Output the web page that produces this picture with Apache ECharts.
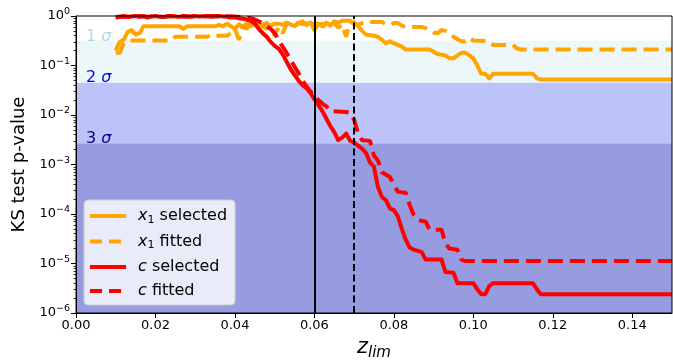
<!DOCTYPE html>
<html>
<head>
<meta charset="utf-8">
<script src="https://cdn.jsdelivr.net/npm/echarts@6/dist/echarts.min.js"></script>
<style>
html,body{margin:0;padding:0;background:#fff;}
#chart{width:673px;height:361px;}
</style>
</head>
<body>
<div id="chart"></div>
<script>
// ---------- data ----------
const xTicks = [0.00, 0.02, 0.04, 0.06, 0.08, 0.10, 0.12, 0.14];
const yTicks = [1e-6, 1e-5, 1e-4, 1e-3, 1e-2, 1e-1, 1];
const minorMantissas = [2, 3, 4, 5, 6, 7, 8, 9];
const seriesNames = ['x1 selected', 'x1 fitted', 'c selected', 'c fitted'];
const sigmaBounds = [1e-6, 0.0027, 0.0455, 0.3173];
const zRefs = [0.06, 0.07];

const x1Selected = [
  [0.010,0.20],[0.011,0.30],[0.012,0.33],[0.013,0.48],[0.014,0.52],[0.015,0.42],[0.016,0.45],[0.017,0.62],
  [0.026,0.62],[0.027,0.55],[0.028,0.62],[0.035,0.62],[0.036,0.66],[0.037,0.62],[0.038,0.70],[0.039,0.62],
  [0.040,0.55],[0.041,0.68],[0.042,0.60],[0.043,0.72],[0.044,0.62],[0.045,0.70],[0.046,0.58],[0.047,0.66],
  [0.048,0.72],[0.049,0.64],[0.050,0.70],[0.051,0.70],[0.052,0.66],[0.053,0.74],[0.054,0.68],[0.055,0.62],
  [0.056,0.70],[0.057,0.78],[0.058,0.66],[0.059,0.74],[0.060,0.52],[0.061,0.70],[0.062,0.62],[0.063,0.74],
  [0.064,0.64],[0.065,0.78],[0.066,0.74],[0.067,0.80],[0.069,0.80],[0.070,0.75],[0.071,0.62],[0.072,0.50],
  [0.073,0.42],[0.075,0.40],[0.076,0.38],[0.077,0.33],[0.078,0.28],[0.079,0.31],[0.080,0.28],[0.081,0.26],
  [0.082,0.24],[0.083,0.21],[0.089,0.21],[0.090,0.19],[0.091,0.17],[0.092,0.165],[0.093,0.16],[0.094,0.14],
  [0.095,0.14],[0.096,0.16],[0.097,0.18],[0.098,0.18],[0.099,0.16],[0.100,0.14],[0.101,0.10],[0.102,0.068],
  [0.103,0.068],[0.104,0.055],[0.105,0.068],[0.115,0.068],[0.116,0.055],[0.117,0.052],[0.150,0.052]
];

const x1Fitted = [
  [0.010,0.18],[0.011,0.18],[0.012,0.28],[0.013,0.32],[0.024,0.32],[0.025,0.38],[0.033,0.38],[0.034,0.42],
  [0.035,0.40],[0.038,0.40],[0.039,0.45],[0.040,0.55],[0.041,0.33],[0.042,0.62],[0.043,0.55],[0.044,0.68],
  [0.045,0.60],[0.046,0.70],[0.047,0.62],[0.048,0.55],[0.049,0.66],[0.050,0.40],[0.051,0.60],[0.052,0.45],
  [0.053,0.68],[0.054,0.72],[0.055,0.62],[0.056,0.75],[0.057,0.68],[0.058,0.72],[0.059,0.60],[0.060,0.72],
  [0.061,0.66],[0.062,0.70],[0.063,0.55],[0.064,0.66],[0.065,0.72],[0.066,0.58],[0.067,0.68],[0.068,0.38],
  [0.069,0.76],[0.070,0.70],[0.071,0.66],[0.072,0.72],[0.073,0.76],[0.077,0.76],[0.078,0.68],[0.079,0.66],
  [0.080,0.72],[0.081,0.72],[0.082,0.64],[0.083,0.60],[0.087,0.60],[0.088,0.57],[0.089,0.52],[0.090,0.46],
  [0.091,0.45],[0.092,0.52],[0.093,0.50],[0.094,0.44],[0.095,0.38],[0.096,0.34],[0.097,0.31],[0.098,0.31],
  [0.099,0.36],[0.100,0.32],[0.104,0.31],[0.105,0.26],[0.110,0.26],[0.111,0.22],[0.112,0.21],[0.150,0.21]
];

const cSelected = [
  [0.010,0.92],[0.011,0.97],[0.012,0.99],[0.013,0.95],[0.014,0.98],[0.015,1.0],[0.016,0.96],[0.017,0.99],
  [0.018,0.93],[0.019,0.98],[0.020,1.0],[0.021,0.97],[0.022,0.95],[0.023,0.99],[0.024,1.0],[0.025,0.98],
  [0.026,0.96],[0.027,1.0],[0.028,0.99],[0.029,0.97],[0.030,1.0],[0.031,0.98],[0.032,0.99],[0.033,1.0],
  [0.034,0.97],[0.035,0.99],[0.036,1.0],[0.037,0.98],[0.038,0.96],[0.039,0.93],[0.040,0.94],[0.041,0.90],
  [0.042,0.88],[0.043,0.85],[0.044,0.80],[0.045,0.70],[0.046,0.55],[0.047,0.45],[0.048,0.38],[0.049,0.30],
  [0.050,0.25],[0.051,0.22],[0.052,0.17],[0.053,0.12],[0.054,0.085],[0.055,0.065],[0.056,0.05],[0.057,0.04],
  [0.058,0.035],[0.059,0.028],[0.060,0.021],[0.061,0.016],[0.062,0.012],[0.063,0.0085],[0.064,0.006],
  [0.065,0.0045],[0.066,0.0031],[0.067,0.0035],[0.068,0.0042],[0.069,0.0030],[0.070,0.0028],[0.071,0.0024],
  [0.072,0.0021],[0.073,0.0017],[0.074,0.0011],[0.075,0.0009],[0.076,0.00035],[0.077,0.00022],[0.078,0.00019],
  [0.079,0.00013],[0.080,0.00012],[0.081,0.00009],[0.082,0.00005],[0.083,0.00003],[0.084,0.000021],
  [0.085,0.000019],[0.087,0.000017],[0.088,0.000012],[0.092,0.000012],[0.093,0.0000067],[0.095,0.0000065],
  [0.096,0.000004],[0.100,0.000004],[0.101,0.000003],[0.102,0.0000024],[0.103,0.0000024],[0.104,0.0000035],
  [0.105,0.000004],[0.115,0.000004],[0.116,0.000003],[0.117,0.0000024],[0.150,0.0000024]
];

const cFitted = [
  [0.010,0.95],[0.012,0.98],[0.014,0.96],[0.016,1.0],[0.018,0.97],[0.020,0.99],[0.022,0.96],[0.024,1.0],
  [0.026,0.98],[0.028,0.96],[0.030,1.0],[0.032,0.98],[0.034,1.0],[0.036,0.97],[0.038,0.99],[0.040,0.98],
  [0.042,0.95],[0.044,0.90],[0.045,0.85],[0.046,0.78],[0.047,0.72],[0.048,0.62],[0.049,0.55],[0.050,0.45],
  [0.051,0.33],[0.052,0.24],[0.053,0.18],[0.054,0.13],[0.055,0.095],[0.056,0.07],[0.057,0.05],[0.058,0.038],
  [0.059,0.03],[0.060,0.024],[0.061,0.02],[0.062,0.017],[0.063,0.015],[0.064,0.012],[0.068,0.0115],
  [0.069,0.011],[0.070,0.008],[0.071,0.0042],[0.072,0.0031],[0.074,0.003],[0.075,0.0015],[0.076,0.0012],
  [0.077,0.0007],[0.079,0.00056],[0.080,0.0004],[0.081,0.00028],[0.083,0.00027],[0.084,0.00015],
  [0.085,0.000096],[0.086,0.000076],[0.088,0.00007],[0.089,0.000048],[0.092,0.000048],[0.093,0.000025],
  [0.094,0.00002],[0.096,0.000019],[0.097,0.000012],[0.098,0.0000112],[0.150,0.0000112]
];

// ---------- chart ----------
const FONT = 'DejaVu Sans';
const SUP = {'0':'0','1':'1','2':'2','3':'3','4':'4','5':'5','6':'6','-':'\u2212'};
const yMinorTicks = [];
yTicks.slice(0, -1).forEach(d => minorMantissas.forEach(m => yMinorTicks.push(m * d)));

const chart = echarts.init(document.getElementById('chart'), null, {renderer: 'canvas'});

const legendRich = {
  i: {fontFamily: FONT, fontSize: 16, fontStyle: 'italic', color: '#000'},
  s: {fontFamily: FONT, fontSize: 11, color: '#000', padding: [8, 0, 0, 0]},
  t: {fontFamily: FONT, fontSize: 16, color: '#000'}
};
function legendFmt(name) {
  if (name.indexOf('x1') === 0) return '{i|x}{s|1}{t| ' + name.slice(3) + '}';
  return '{i|c}{t| ' + name.slice(2) + '}';
}

const lineW = 4;
const dashPat = [15, 7];
const colorX = '#ffa500';
const colorC = '#ff0000';
const seriesColors = [colorX, colorX, colorC, colorC];
const seriesDashed = [false, true, false, true];

const option = {
  animation: false,
  backgroundColor: '#ffffff',
  grid: {left: 76, right: 1, top: 16, bottom: 48, outerBoundsMode: 'none', containLabel: false,
    show: true, borderColor: '#000', borderWidth: 1, backgroundColor: 'transparent', z: 10},
  xAxis: {
    type: 'value', min: 0, max: 0.15, interval: 0.02, z: 10,
    name: '{z|z}{l|lim}', nameLocation: 'middle', nameGap: 20,
    nameTextStyle: {rich: {
      z: {fontFamily: FONT, fontSize: 21, fontStyle: 'italic', color: '#000'},
      l: {fontFamily: FONT, fontSize: 15, fontStyle: 'italic', color: '#000', padding: [12, 0, 0, 0]}
    }},
    axisLine: {show: true, onZero: false, lineStyle: {color: '#000', width: 1}},
    axisTick: {show: true, inside: false, length: 5, customValues: xTicks, lineStyle: {color: '#000'}},
    axisLabel: {show: true, customValues: xTicks, margin: 6, fontFamily: FONT, fontSize: 13, color: '#000',
      formatter: v => v.toFixed(2)},
    splitLine: {show: false}
  },
  yAxis: [{
    type: 'log', logBase: 10, min: 1e-6, max: 1, z: 10,
    name: 'KS test p-value', nameLocation: 'middle', nameGap: 31, nameRotate: 90,
    nameTextStyle: {fontFamily: FONT, fontSize: 18, color: '#000'},
    axisLine: {show: true, onZero: false, lineStyle: {color: '#000', width: 1}},
    axisTick: {show: true, inside: false, length: 5, customValues: yTicks, lineStyle: {color: '#000'}},
    axisLabel: {show: true, customValues: yTicks, margin: 6, fontFamily: FONT, color: '#000',
      formatter: v => {
        const e = Math.round(Math.log10(v));
        const s = String(e).split('').map(ch => SUP[ch]).join('');
        return '{b|10}{s|' + s + '}';
      },
      rich: {
        b: {fontFamily: FONT, fontSize: 13, color: '#000'},
        s: {fontFamily: FONT, fontSize: 9.5, color: '#000', padding: [0, 0, 8, 0]}
      }
    },
    splitLine: {show: false}
  }, {
    type: 'log', logBase: 10, min: 1e-6, max: 1, z: 10, position: 'left',
    axisLine: {show: false},
    axisTick: {show: true, inside: false, length: 2.5, customValues: yMinorTicks, lineStyle: {color: '#000', width: 0.8}},
    axisLabel: {show: false},
    splitLine: {show: false}
  }],
  legend: {
    data: seriesNames.map((n, k) => ({
      name: n,
      itemStyle: {opacity: 0},
      lineStyle: {color: seriesColors[k], width: lineW, type: seriesDashed[k] ? [12, 7] : 'solid'}
    })),
    orient: 'vertical', left: 84, top: 200,
    itemWidth: 36, itemHeight: 14, itemGap: 8,
    padding: [8, 8, 6, 4],
    backgroundColor: 'rgba(255,255,255,0.8)', borderColor: '#cccccc', borderWidth: 1, borderRadius: 4,
    formatter: legendFmt,
    textStyle: {rich: legendRich, padding: [0, 0, 0, 7]}
  },
  graphic: [
    {type: 'text', left: 86, top: 29, z: 20, style: {text: '{a|1 }{b|σ}', rich: {
      a: {fontFamily: FONT, fontSize: 16, fill: '#add8e6'}, b: {fontFamily: FONT, fontSize: 16, fontStyle: 'italic', fill: '#add8e6'}}}},
    {type: 'text', left: 86, top: 70, z: 20, style: {text: '{a|2 }{b|σ}', rich: {
      a: {fontFamily: FONT, fontSize: 16, fill: '#0000ff'}, b: {fontFamily: FONT, fontSize: 16, fontStyle: 'italic', fill: '#0000ff'}}}},
    {type: 'text', left: 86, top: 131, z: 20, style: {text: '{a|3 }{b|σ}', rich: {
      a: {fontFamily: FONT, fontSize: 16, fill: '#00008b'}, b: {fontFamily: FONT, fontSize: 16, fontStyle: 'italic', fill: '#00008b'}}}}
  ],
  series: [
    {
      type: 'line', name: 'bands', data: [], z: 1, silent: true,
      markArea: {silent: true, data: [
        [{yAxis: sigmaBounds[0], itemStyle: {color: '#979ce0'}}, {yAxis: sigmaBounds[1]}],
        [{yAxis: sigmaBounds[1], itemStyle: {color: '#bcc3f8'}}, {yAxis: sigmaBounds[2]}],
        [{yAxis: sigmaBounds[2], itemStyle: {color: '#edf6f8'}}, {yAxis: sigmaBounds[3]}]
      ]},
      markLine: {silent: true, symbol: 'none', label: {show: false}, data: [
        {xAxis: zRefs[0], lineStyle: {color: '#000', width: 2, type: 'solid'}},
        {xAxis: zRefs[1], lineStyle: {color: '#000', width: 2, type: [7, 3.5]}}
      ]}
    },
    {type: 'line', name: seriesNames[0], data: x1Selected, z: 3, showSymbol: false, symbol: 'none',
      lineStyle: {color: colorX, width: lineW, join: 'round'}, itemStyle: {color: colorX}},
    {type: 'line', name: seriesNames[1], data: x1Fitted, z: 3, showSymbol: false, symbol: 'none',
      lineStyle: {color: colorX, width: lineW, type: dashPat}, itemStyle: {color: colorX}},
    {type: 'line', name: seriesNames[2], data: cSelected, z: 4, showSymbol: false, symbol: 'none',
      lineStyle: {color: colorC, width: lineW, join: 'round'}, itemStyle: {color: colorC}},
    {type: 'line', name: seriesNames[3], data: cFitted, z: 4, showSymbol: false, symbol: 'none',
      lineStyle: {color: colorC, width: lineW, type: dashPat}, itemStyle: {color: colorC}}
  ]
};
chart.setOption(option);
</script>
</body>
</html>
